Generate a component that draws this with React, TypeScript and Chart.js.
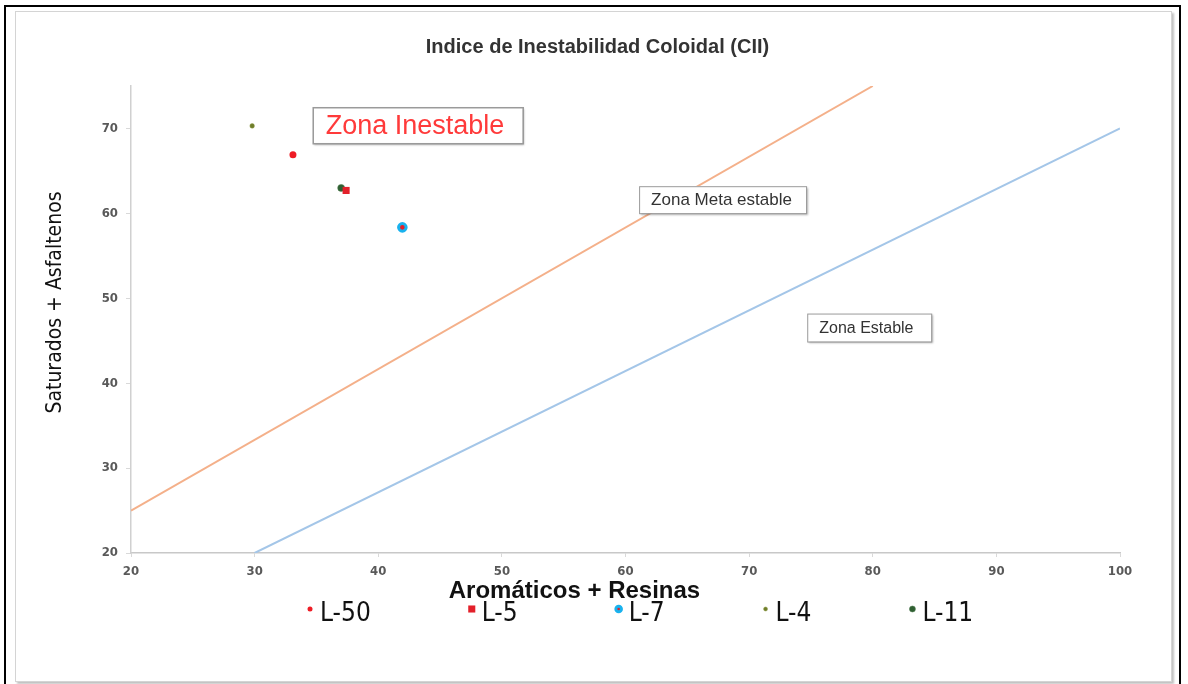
import React, { useEffect, useRef } from 'react';
import { Chart, registerables } from 'chart.js';

Chart.register(...registerables);

// ---------- data ----------
const CHART_TITLE = 'Indice de Inestabilidad Coloidal (CII)';
const X_TITLE = 'Aromáticos + Resinas';
const Y_TITLE = 'Saturados + Asfaltenos';

const sampleNames = ['L-50', 'L-5', 'L-7', 'L-4', 'L-11'];
const aromaticosResinas = [33.1, 37.4, 41.95, 29.8, 37.0];
const saturadosAsfaltenos = [66.9, 62.7, 58.35, 70.3, 63.0];

// zone boundary lines (x, y end points)
const unstableLineX = [20, 80];
const unstableLineY = [25, 75];
const stableLineX = [30, 100];
const stableLineY = [20, 70];

const X_MIN = 20;
const X_MAX = 100;
const Y_MIN = 20;
const Y_MAX = 75;
const TICK_STEP = 10;

const zoneLabels = ['Zona Inestable', 'Zona Meta estable', 'Zona Estable'];
const zoneAnchorX = [34.7, 61.1, 74.7];
const zoneAnchorY = [72.5, 63.2, 48.2];

// ---------- styles ----------
const NARROW = '"Liberation Sans Narrow", "DejaVu Sans Condensed", "Liberation Sans", sans-serif';
const SANS = '"Liberation Sans", Arial, sans-serif';

const sampleStyles = [
  { bg: '#ee1c25', border: '#ee1c25', bw: 0, radius: 3.5, shape: 'circle', legendR: 2.5 },
  { bg: '#e3202a', border: '#e3202a', bw: 0, radius: 5, shape: 'rect', legendR: 5 },
  { bg: '#e3202a', border: '#19b2ee', bw: 3, radius: 3.8, shape: 'circle', legendR: 2.8 },
  { bg: '#6f7d2a', border: '#8c9a45', bw: 0.5, radius: 2.3, shape: 'circle', legendR: 2 },
  { bg: '#2f5f32', border: '#4c7a4c', bw: 0.5, radius: 3.5, shape: 'circle', legendR: 3 },
];

const zoneStyles = [
  { w: 210, h: 36, padX: 13, font: '27px ' + SANS, color: '#ff3a3a', lineW: 1.5 },
  { w: 167, h: 27, padX: 12, font: '17px ' + SANS, color: '#333333', lineW: 1 },
  { w: 124, h: 28, padX: 12, font: '16px ' + SANS, color: '#333333', lineW: 1 },
];

function drawMarker(ctx: CanvasRenderingContext2D, st: any, x: number, y: number, r: number) {
  ctx.save();
  ctx.fillStyle = st.bg;
  ctx.strokeStyle = st.border;
  ctx.lineWidth = st.bw;
  ctx.beginPath();
  if (st.shape === 'rect') {
    const s = r * Math.SQRT1_2;
    ctx.rect(x - s, y - s, s * 2, s * 2);
  } else {
    ctx.arc(x, y, r, 0, Math.PI * 2);
  }
  ctx.fill();
  if (st.bw > 0) ctx.stroke();
  ctx.restore();
}

const titlesPlugin = {
  id: 'titles',
  afterDraw(chart: any) {
    const { ctx, chartArea } = chart;
    const cx = (chartArea.left + chartArea.right) / 2;
    const cy = (chartArea.top + chartArea.bottom) / 2;
    ctx.save();
    ctx.textAlign = 'center';
    ctx.textBaseline = 'middle';
    // chart title
    ctx.fillStyle = '#333333';
    ctx.font = 'bold 20px ' + SANS;
    ctx.fillText(CHART_TITLE, cx - 28, chartArea.top - 39);
    // x axis title
    ctx.fillStyle = '#111111';
    ctx.font = 'bold 24px ' + SANS;
    ctx.fillText(X_TITLE, cx - 51, chartArea.bottom + 38);
    // y axis title
    ctx.translate(40, cy - 17);
    ctx.rotate(-Math.PI / 2);
    ctx.font = '21px ' + NARROW;
    ctx.fillText(Y_TITLE, 0, 0);
    ctx.restore();
  },
};

const zonePlugin = {
  id: 'zoneBoxes',
  afterDatasetsDraw(chart: any) {
    const { ctx, scales } = chart;
    zoneLabels.forEach((label, i) => {
      const st = zoneStyles[i];
      const x = scales.x.getPixelForValue(zoneAnchorX[i]);
      const y = scales.y.getPixelForValue(zoneAnchorY[i]);
      ctx.save();
      ctx.shadowColor = 'rgba(0,0,0,0.3)';
      ctx.shadowOffsetX = 1.5;
      ctx.shadowOffsetY = 1.5;
      ctx.shadowBlur = 2;
      ctx.fillStyle = '#ffffff';
      ctx.fillRect(x, y, st.w, st.h);
      ctx.shadowColor = 'transparent';
      ctx.strokeStyle = '#9a9a9a';
      ctx.lineWidth = st.lineW;
      ctx.strokeRect(x + 0.5, y + 0.5, st.w, st.h);
      ctx.fillStyle = st.color;
      ctx.font = st.font;
      ctx.textBaseline = 'middle';
      ctx.textAlign = 'left';
      ctx.fillText(label, x + st.padX, y + st.h / 2 + 1);
      ctx.restore();
    });
  },
};

const legendPlugin = {
  id: 'bottomLegend',
  afterDraw(chart: any) {
    const { ctx, chartArea } = chart;
    let cursor = chartArea.left + 179;
    const textY = chartArea.bottom + 61;
    ctx.save();
    ctx.font = '26px ' + NARROW;
    ctx.textBaseline = 'middle';
    ctx.textAlign = 'left';
    ctx.fillStyle = '#111111';
    sampleNames.forEach((name, i) => {
      drawMarker(ctx, sampleStyles[i], cursor, textY - 5, sampleStyles[i].legendR);
      const tx = cursor + 10;
      ctx.fillText(name, tx, textY);
      cursor = tx + ctx.measureText(name).width + 101;
    });
    ctx.restore();
  },
};

export default function App() {
  const canvasRef = useRef<HTMLCanvasElement | null>(null);

  useEffect(() => {
    const canvas = canvasRef.current;
    if (!canvas) return;

    const sampleDatasets = sampleNames.map((name, i) => {
      const st = sampleStyles[i];
      return {
        type: 'scatter' as const,
        label: name,
        data: [{ x: aromaticosResinas[i], y: saturadosAsfaltenos[i] }],
        backgroundColor: st.bg,
        borderColor: st.border,
        borderWidth: st.bw,
        pointRadius: st.radius,
        pointStyle: st.shape,
      };
    });

    const lineDatasets = [
      {
        type: 'line' as const,
        label: '_unstable',
        data: unstableLineX.map((x, i) => ({ x, y: unstableLineY[i] })),
        borderColor: '#f4b08a',
        borderWidth: 2,
        pointRadius: 0,
        showLine: true,
        fill: false,
      },
      {
        type: 'line' as const,
        label: '_stable',
        data: stableLineX.map((x, i) => ({ x, y: stableLineY[i] })),
        borderColor: '#a4c6e8',
        borderWidth: 2,
        pointRadius: 0,
        showLine: true,
        fill: false,
      },
    ];

    const tickFont = { family: NARROW, size: 13, weight: 'bold' as const };

    const chart = new Chart(canvas, {
      type: 'scatter',
      data: { datasets: [...sampleDatasets, ...lineDatasets] as any },
      options: {
        animation: false,
        responsive: false,
        devicePixelRatio: 1,
        layout: { padding: { left: 0, right: 51, top: 74, bottom: 76 } },
        plugins: {
          legend: { display: false },
          tooltip: { enabled: false },
          title: { display: false },
        },
        scales: {
          x: {
            type: 'linear',
            position: 'bottom',
            min: X_MIN,
            max: X_MAX,
            ticks: { stepSize: TICK_STEP, color: '#595959', font: tickFont, padding: 7, maxRotation: 0 },
            grid: { drawOnChartArea: false, drawTicks: true, tickLength: 4, color: '#d9d9d9' },
            border: { display: true, color: '#c8c8c8', width: 1.5 },
            title: { display: false },
            afterFit: (s: any) => {
              s.height = 52;
            },
          },
          y: {
            type: 'linear',
            min: Y_MIN,
            max: Y_MAX,
            ticks: { stepSize: TICK_STEP, includeBounds: false, color: '#595959', font: tickFont, padding: 8 },
            grid: { drawOnChartArea: false, drawTicks: true, tickLength: 5, color: '#d9d9d9' },
            border: { display: true, color: '#d0d0d0', width: 1.5 },
            title: { display: false },
            afterFit: (s: any) => {
              s.width = 115;
            },
          },
        },
      },
      plugins: [zonePlugin, titlesPlugin, legendPlugin],
    });

    return () => chart.destroy();
  }, []);

  return (
    <div
      style={{
        position: 'absolute',
        left: 0,
        top: 0,
        width: 1188,
        height: 684,
        background: '#ffffff',
        overflow: 'hidden',
      }}
    >
      <div
        style={{
          position: 'absolute',
          left: 4,
          top: 5,
          width: 1177,
          height: 700,
          border: '2px solid #000000',
          boxSizing: 'border-box',
        }}
      />
      <div
        style={{
          position: 'absolute',
          left: 15,
          top: 11,
          width: 1157,
          height: 671,
          border: '1px solid #d4d4d4',
          boxShadow: '2px 2px 2px rgba(0,0,0,0.25)',
          boxSizing: 'border-box',
          background: '#ffffff',
        }}
      >
        <canvas
          ref={canvasRef}
          width={1155}
          height={669}
          style={{ position: 'absolute', left: 0, top: 0, width: 1155, height: 669 }}
        />
      </div>
    </div>
  );
}
